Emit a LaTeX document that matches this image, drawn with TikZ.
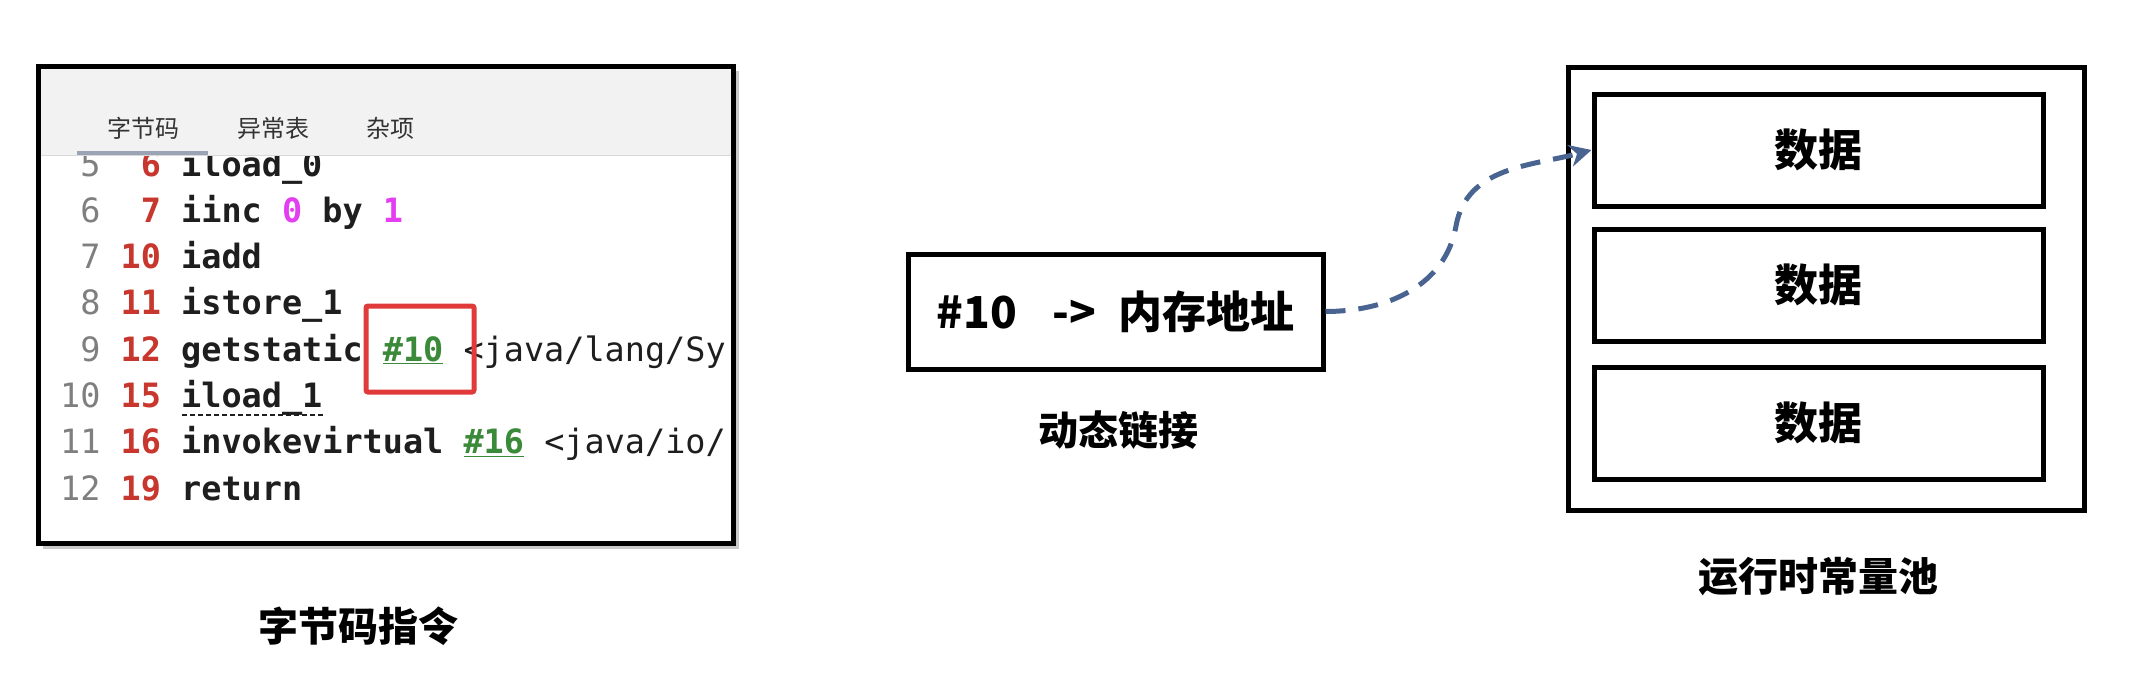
\documentclass[tikz,border=0pt]{standalone}
\usepackage{fontspec}
\usetikzlibrary{arrows.meta}
\newfontfamily\cjk{Noto Sans CJK SC}
\newfontfamily\codefont{DejaVu Sans Mono}
\definecolor{lngray}{HTML}{7F7F7F}
\definecolor{offred}{HTML}{C8372D}
\definecolor{codeblack}{HTML}{1E1E1E}
\definecolor{magc}{HTML}{E43EF2}
\definecolor{grnc}{HTML}{3A8A3A}
\definecolor{hdrc}{HTML}{F2F2F2}
\definecolor{tabc}{HTML}{333333}
\definecolor{tabline}{HTML}{9AA4B5}
\definecolor{hlred}{HTML}{E03A3A}
\definecolor{arrc}{HTML}{4A6491}
\newcommand\lnum[1]{{\color{lngray}\mdseries#1}}
\newcommand\offs[1]{{\color{offred}#1}}
\newcommand\magtxt[1]{{\color{magc}#1}}
\newcommand\grntxt[1]{{\color{grnc}\underline{#1}}}
\begin{document}
\begin{tikzpicture}[x=1pt,y=-1pt,
  box/.style={draw=black, line width=5pt, inner sep=0pt},
  captxt/.style={font=\cjk\bfseries\fontsize{40}{48}\selectfont, inner sep=0pt},
  data/.style={box, minimum width=449pt, minimum height=112pt, font=\cjk\bfseries\fontsize{44}{52}\selectfont},
  tabtxt/.style={font=\cjk\fontsize{24}{28}\selectfont, text=tabc, inner sep=0pt},
  code/.style={anchor=base west, inner sep=0pt, text=codeblack, font=\codefont\bfseries\fontsize{33.5}{40}\selectfont},
  arr/.style={draw=arrc, line width=5pt, dash pattern=on 20pt off 13pt, -{Stealth[length=22pt,width=22pt,inset=7pt]}}
]
\useasboundingbox (0,0) rectangle (2140,680);
\fill[white] (0,0) rectangle (2140,680);

% screenshot panel
\fill[black!35, opacity=0.6] (43,71) rectangle (739,549);
\fill[white] (38,66) rectangle (733,543);
\begin{scope}
  \clip (40,68) rectangle (731,541);
  \node[code] (l5) at (60,176) {\lnum{\hphantom{0}5} \offs{\hphantom{0}6} iload\_0};
  \node[code] (l6) at (60,222.3) {\lnum{\hphantom{0}6} \offs{\hphantom{0}7} iinc \magtxt{0} by \magtxt{1}};
  \node[code] (l7) at (60,268.6) {\lnum{\hphantom{0}7} \offs{10} iadd};
  \node[code] (l8) at (60,314.9) {\lnum{\hphantom{0}8} \offs{11} istore\_1};
  \node[code] (l9) at (60,361.2) {\lnum{\hphantom{0}9} \offs{12} getstatic \grntxt{\#10} {\mdseries<java/lang/Sy}};
  \node[code] (l10) at (60,407.5) {\lnum{10} \offs{15} iload\_1};
  \node[code] (l11) at (60,453.8) {\lnum{11} \offs{16} invokevirtual \grntxt{\#16} {\mdseries<java/io/}};
  \node[code] (l12) at (60,500.1) {\lnum{12} \offs{19} return};
  \draw[codeblack, line width=1.6pt, dash pattern=on 5pt off 3pt] (182,415) -- (323,415);
  \fill[hdrc] (40,68) rectangle (731,155);
  \draw[black!15, line width=1.5pt] (40,155.5) -- (731,155.5);
\end{scope}
\node[tabtxt] (t1) at (143,128) {字节码};
\node[tabtxt] (t2) at (273,128) {异常表};
\node[tabtxt] (t3) at (390,128) {杂项};
\draw[tabline, line width=4pt] (77,153) -- (208,153);
\node[draw=hlred, line width=5pt, rounded corners=2pt, minimum width=108pt, minimum height=86pt, inner sep=0pt] (hl) at (420,349) {};
\draw[black, line width=5pt] (38,66) rectangle (733,543);
\node[captxt] (lbl1) at (358,626) {字节码指令};

% dynamic link box
\node[box, minimum width=415pt, minimum height=115pt, font=\cjk\bfseries\fontsize{44}{52}\selectfont] (mid) at (1115.5,311.5) {\#10\hspace{36pt}->\hspace{22pt}内存地址};
\node[captxt] (lbl2) at (1118,430) {动态链接};

% runtime constant pool
\node[box, minimum width=516pt, minimum height=443pt] (pool) at (1826,288.5) {};
\node[data] (d1) at (1818.5,150) {数据};
\node[data] (d2) at (1818.5,285) {数据};
\node[data] (d3) at (1818.5,423) {数据};
\node[captxt] (lbl3) at (1818,577) {运行时常量池};

% arrow
\coordinate (bend) at (1456,226);
\draw[arr] (mid.east) to[out=0,in=-100] (bend) to[out=80,in=195] (d1.west);
\end{tikzpicture}
\end{document}
